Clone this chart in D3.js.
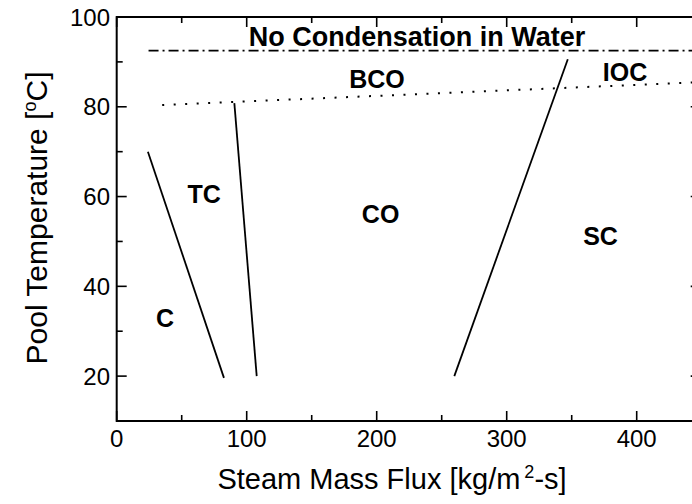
<!DOCTYPE html>
<html>
<head>
<meta charset="utf-8">
<script src="https://cdn.jsdelivr.net/npm/d3@7/dist/d3.min.js"></script>
<style>
  html, body { margin: 0; padding: 0; background: #fff; }
  svg { display: block; font-family: "Liberation Sans", Arial, Helvetica, sans-serif; }
</style>
</head>
<body>
<svg id="chart" width="692" height="504"></svg>
<script>
// ---- data ----
const xTickValues = [0, 100, 200, 300, 400];
const xMinorTicks = [50, 150, 250, 350];
const yTickValues = [20, 40, 60, 80, 100];
const yMinorTicks = [30, 50, 70, 90];

// regime boundary lines: [steam mass flux, pool temperature]
const lineC  = [[24, 70], [82.5, 19.6]];
const lineTC = [[90.5, 80.8], [107.7, 20]];
const lineSC = [[259.7, 20], [347, 90.6]];
const lineBCO = [[35, 80.4], [450, 85.5]];        // dotted
const lineNoCond = [[24.5, 92.5], [450, 92.5]];   // dash-dot

// region labels: [text, steam mass flux, pool temperature]
const regionNames = ["C", "TC", "CO", "SC", "BCO", "IOC"];
const regionX     = [37.2, 67.2, 203, 372.2, 200.2, 391];
const regionY     = [30.9, 58.6, 54.1, 49.2, 84.2, 85.7];
const noCondText = "No Condensation in Water";
const noCondPos = [231, 93.5];

// ---- chart ----
(function () {
const svg = d3.select("#chart");
const pLeft = 116.7, pTop = 17, pBottom = 421;
const x = d3.scaleLinear().domain([0, 450]).range([pLeft, pLeft + 585]);
const y = d3.scaleLinear().domain([10, 100]).range([pBottom, pTop]);
const pRight = x(450);

const frame = svg.append("g");
const axisStroke = 2;

frame.append("line").attr("x1", pLeft).attr("x2", pRight).attr("y1", pBottom).attr("y2", pBottom)
  .attr("stroke", "#000").attr("stroke-width", axisStroke);
frame.append("line").attr("x1", pLeft).attr("x2", pRight).attr("y1", pTop).attr("y2", pTop)
  .attr("stroke", "#000").attr("stroke-width", axisStroke);
frame.append("line").attr("x1", pLeft).attr("x2", pLeft).attr("y1", pTop - 1).attr("y2", pBottom + 1)
  .attr("stroke", "#000").attr("stroke-width", axisStroke);
frame.append("line").attr("x1", pRight).attr("x2", pRight).attr("y1", pTop - 1).attr("y2", pBottom + 1)
  .attr("stroke", "#000").attr("stroke-width", axisStroke);

const majorLen = 10, minorLen = 6;
xTickValues.forEach(v => {
  frame.append("line").attr("x1", x(v)).attr("x2", x(v)).attr("y1", pBottom).attr("y2", pBottom - majorLen)
    .attr("stroke", "#000").attr("stroke-width", 1.6);
  frame.append("line").attr("x1", x(v)).attr("x2", x(v)).attr("y1", pTop).attr("y2", pTop + majorLen)
    .attr("stroke", "#000").attr("stroke-width", 1.6);
});
xMinorTicks.forEach(v => {
  frame.append("line").attr("x1", x(v)).attr("x2", x(v)).attr("y1", pBottom).attr("y2", pBottom - minorLen)
    .attr("stroke", "#000").attr("stroke-width", 1.6);
  frame.append("line").attr("x1", x(v)).attr("x2", x(v)).attr("y1", pTop).attr("y2", pTop + minorLen)
    .attr("stroke", "#000").attr("stroke-width", 1.6);
});
yTickValues.forEach(v => {
  frame.append("line").attr("x1", pLeft).attr("x2", pLeft + majorLen).attr("y1", y(v)).attr("y2", y(v))
    .attr("stroke", "#000").attr("stroke-width", 1.6);
  frame.append("line").attr("x1", pRight).attr("x2", pRight - majorLen - 1).attr("y1", y(v)).attr("y2", y(v))
    .attr("stroke", "#000").attr("stroke-width", 1.6);
});
yMinorTicks.forEach(v => {
  frame.append("line").attr("x1", pLeft).attr("x2", pLeft + minorLen).attr("y1", y(v)).attr("y2", y(v))
    .attr("stroke", "#000").attr("stroke-width", 1.6);
  frame.append("line").attr("x1", pRight).attr("x2", pRight - minorLen).attr("y1", y(v)).attr("y2", y(v))
    .attr("stroke", "#000").attr("stroke-width", 1.6);
});

const tickFont = 24;
xTickValues.forEach(v => {
  svg.append("text").attr("x", x(v)).attr("y", 447).attr("text-anchor", "middle")
    .attr("font-size", tickFont).text(v);
});
yTickValues.forEach(v => {
  svg.append("text").attr("x", 110).attr("y", y(v) + 8.5).attr("text-anchor", "end")
    .attr("font-size", tickFont).text(v);
});

const xt = svg.append("text").attr("x", 392).attr("y", 489).attr("text-anchor", "middle")
  .attr("font-size", 29);
xt.append("tspan").text("Steam Mass Flux [kg/m");
xt.append("tspan").attr("dx", 4).attr("dy", -11).attr("font-size", 18).text("2");
xt.append("tspan").attr("dy", 11).text("-s]");

const yt = svg.append("text").attr("transform", "translate(47,218) rotate(-90)")
  .attr("text-anchor", "middle").attr("font-size", 30);
yt.append("tspan").text("Pool Temperature [");
yt.append("tspan").attr("dy", -11).attr("font-size", 18).text("o");
yt.append("tspan").attr("dy", 11).text("C]");

const line = d3.line().x(d => x(d[0])).y(d => y(d[1]));
const plot = svg.append("g");
[lineC, lineTC, lineSC].forEach(pts => {
  plot.append("path").attr("d", line(pts)).attr("fill", "none")
    .attr("stroke", "#000").attr("stroke-width", 1.8);
});
plot.append("path").attr("d", line(lineBCO)).attr("fill", "none")
  .attr("stroke", "#000").attr("stroke-width", 2).attr("stroke-dasharray", "2,9.5");
plot.append("path").attr("d", line(lineNoCond)).attr("fill", "none")
  .attr("stroke", "#000").attr("stroke-width", 1.8).attr("stroke-dasharray", "10,4,2,4");

regionNames.forEach((t, i) => {
  svg.append("text").attr("x", x(regionX[i])).attr("y", y(regionY[i]))
    .attr("text-anchor", "middle").attr("font-size", 25).attr("font-weight", "bold").text(t);
});
svg.append("text").attr("x", x(noCondPos[0])).attr("y", y(noCondPos[1]))
  .attr("text-anchor", "middle").attr("font-size", 27).attr("font-weight", "bold").text(noCondText);
})();
</script>
</body>
</html>
